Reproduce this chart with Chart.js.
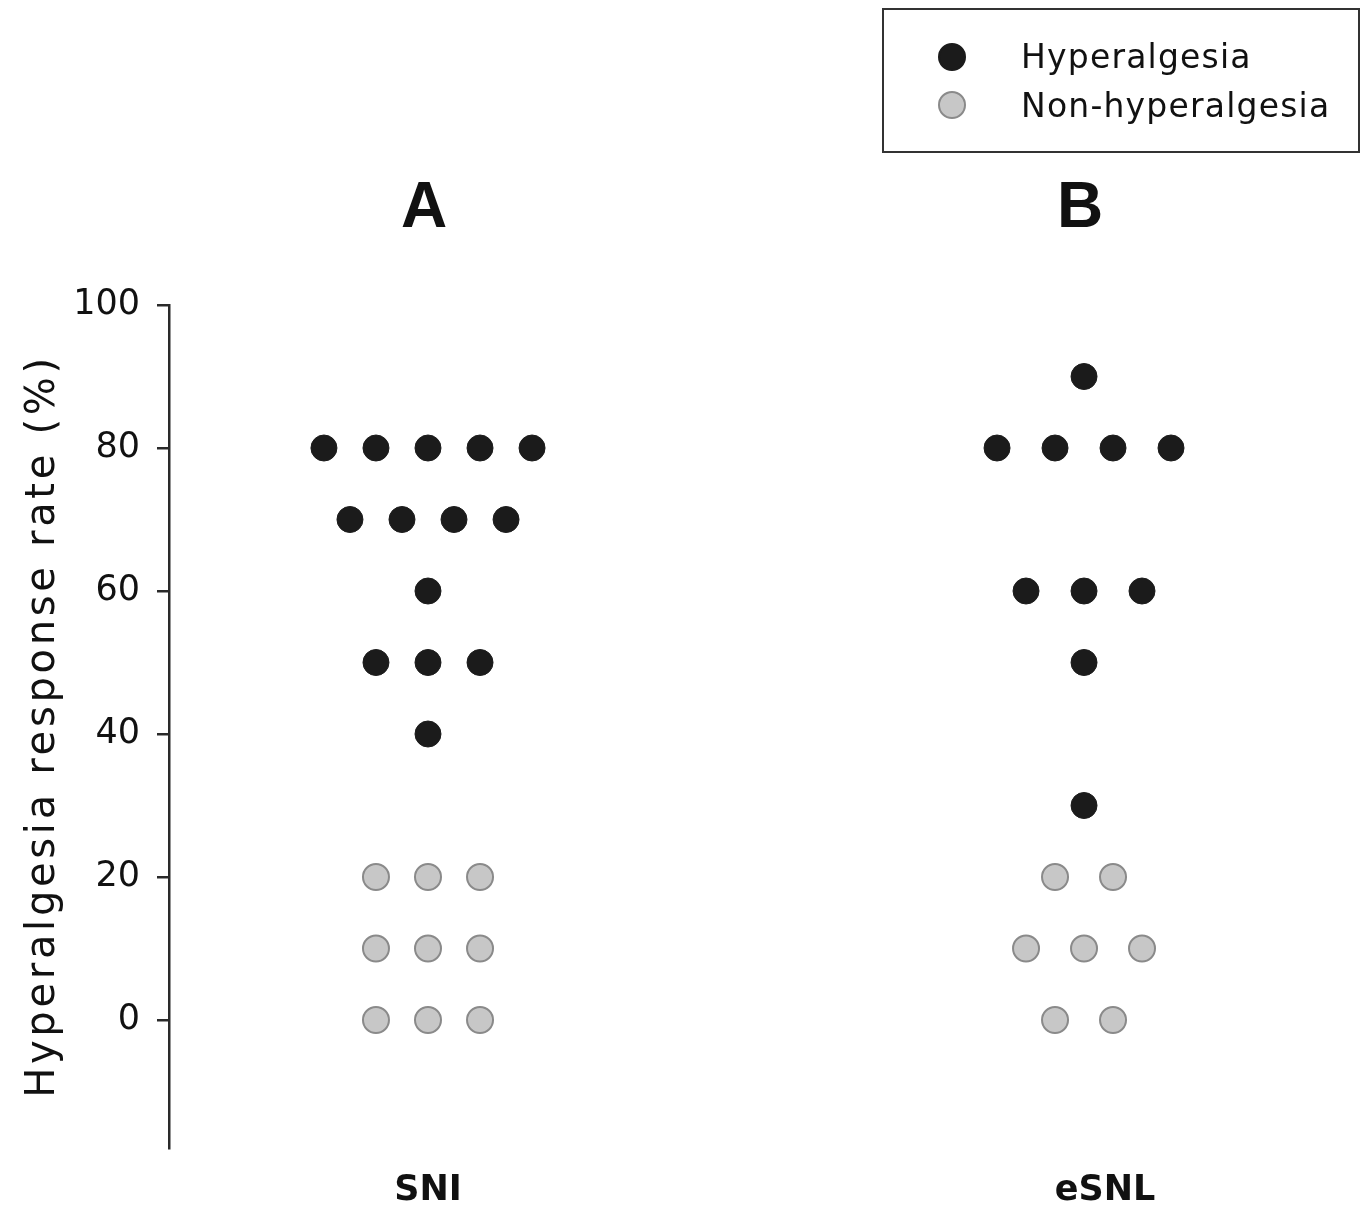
<!DOCTYPE html>
<html>
<head>
<meta charset="utf-8">
<script src="https://cdn.jsdelivr.net/npm/chart.js@4"></script>
<style>
  body { margin: 0; background: #fff; }
  canvas { display: block; }
</style>
</head>
<body>
<canvas id="dotChart" width="1362" height="1205"></canvas>
<script>
// データ
const groups = ['SNI', 'eSNL'];
const panelLetters = ['A', 'B'];
const sniHyper = [80, 80, 80, 80, 80, 70, 70, 70, 70, 60, 50, 50, 50, 40];
const sniNonHyper = [20, 20, 20, 10, 10, 10, 0, 0, 0];
const esnlHyper = [90, 80, 80, 80, 80, 60, 60, 60, 50, 30];
const esnlNonHyper = [20, 20, 10, 10, 10, 0, 0];
const yTicks = [0, 20, 40, 60, 80, 100];
const seriesNames = ['Hyperalgesia', 'Non-hyperalgesia'];

// ドットの横間隔 (x軸単位) とラベル位置のずれ
const slotSpacing = [0.0793, 0.0884];
const labelShift = [0, 0.032];

// 同じ値のドットを横に並べる
function swarm(values, groupIndex) {
    const counts = {};
    values.forEach(v => { counts[v] = (counts[v] || 0) + 1; });
    const seen = {};
    return values.map(v => {
        const i = seen[v] || 0;
        seen[v] = i + 1;
        const slot = i - (counts[v] - 1) / 2;
        return { x: groupIndex + 1 + slot * slotSpacing[groupIndex], y: v };
    });
}

const blackFill = '#1b1b1b';
const greyFill = '#c7c7c7';
const greyEdge = '#8a8a8a';

// 凡例・パネル文字・縦軸タイトルを描画
const decorations = {
    id: 'decorations',
    afterDraw(chart) {
        const ctx = chart.ctx;
        const xs = chart.scales.x;
        ctx.save();

        // A / B
        ctx.fillStyle = '#111';
        ctx.font = 'bold 64px "Liberation Sans", Arial, sans-serif';
        ctx.textAlign = 'center';
        ctx.textBaseline = 'alphabetic';
        panelLetters.forEach((t, i) => {
            ctx.fillText(t, xs.getPixelForValue(i + 1) - 4, 227);
        });

        // 縦軸タイトル
        ctx.save();
        ctx.translate(54, 726);
        ctx.rotate(-Math.PI / 2);
        ctx.font = '40px "DejaVu Sans", sans-serif';
        ctx.letterSpacing = '3.7px';
        ctx.textAlign = 'center';
        ctx.fillStyle = '#111';
        ctx.fillText('Hyperalgesia response rate (%)', 0, 0);
        ctx.restore();

        // 凡例
        ctx.strokeStyle = '#333';
        ctx.lineWidth = 2;
        ctx.strokeRect(883, 9, 476, 143);
        const rows = [
            { y: 57, fill: blackFill, edge: blackFill, base: 68 },
            { y: 105, fill: greyFill, edge: greyEdge, base: 117 }
        ];
        ctx.font = '33px "DejaVu Sans", sans-serif';
        ctx.letterSpacing = '1.2px';
        ctx.textAlign = 'left';
        rows.forEach((r, i) => {
            ctx.beginPath();
            ctx.arc(952, r.y, 13, 0, Math.PI * 2);
            ctx.fillStyle = r.fill;
            ctx.fill();
            ctx.lineWidth = 2;
            ctx.strokeStyle = r.edge;
            ctx.stroke();
            ctx.fillStyle = '#111';
            ctx.fillText(seriesNames[i], 1021, r.base);
        });
        ctx.restore();
    }
};

const ctx = document.getElementById('dotChart').getContext('2d');
new Chart(ctx, {
    type: 'scatter',
    data: {
        datasets: [
            {
                label: seriesNames[0],
                data: swarm(sniHyper, 0).concat(swarm(esnlHyper, 1)),
                backgroundColor: blackFill,
                borderColor: blackFill,
                borderWidth: 1
            },
            {
                label: seriesNames[1],
                data: swarm(sniNonHyper, 0).concat(swarm(esnlNonHyper, 1)),
                backgroundColor: greyFill,
                borderColor: greyEdge,
                borderWidth: 2
            }
        ]
    },
    options: {
        responsive: false,
        animation: false,
        layout: { padding: { top: 305, right: 22, left: 0, bottom: 0 } },
        elements: { point: { radius: 13, hoverRadius: 13 } },
        plugins: {
            legend: { display: false },
            tooltip: { enabled: false }
        },
        scales: {
            x: {
                type: 'linear',
                min: 0.6052,
                max: 2.3902,
                border: { display: false },
                grid: { display: false, drawTicks: false },
                afterBuildTicks: scale => {
                    scale.ticks = groups.map((g, i) => ({ value: i + 1 + labelShift[i] }));
                },
                afterFit: scale => { scale.height = 57; },
                ticks: {
                    autoSkip: false,
                    maxRotation: 0,
                    padding: 22,
                    color: '#111',
                    font: { family: 'DejaVu Sans', size: 35, weight: 'bold' },
                    callback: value => groups[Math.round(value) - 1] || ''
                }
            },
            y: {
                min: -17.9,
                max: 100,
                border: { display: true, color: '#2a2a2a', width: 2.5 },
                grid: {
                    drawOnChartArea: false,
                    drawTicks: true,
                    tickLength: 12,
                    color: '#2a2a2a',
                    lineWidth: 2.5
                },
                afterBuildTicks: scale => {
                    scale.ticks = yTicks.map(v => ({ value: v }));
                },
                afterFit: scale => { scale.width = 169; },
                ticks: {
                    padding: 17,
                    color: '#111',
                    font: { family: 'DejaVu Sans', size: 35 }
                }
            }
        }
    },
    plugins: [decorations]
});
</script>
</body>
</html>
